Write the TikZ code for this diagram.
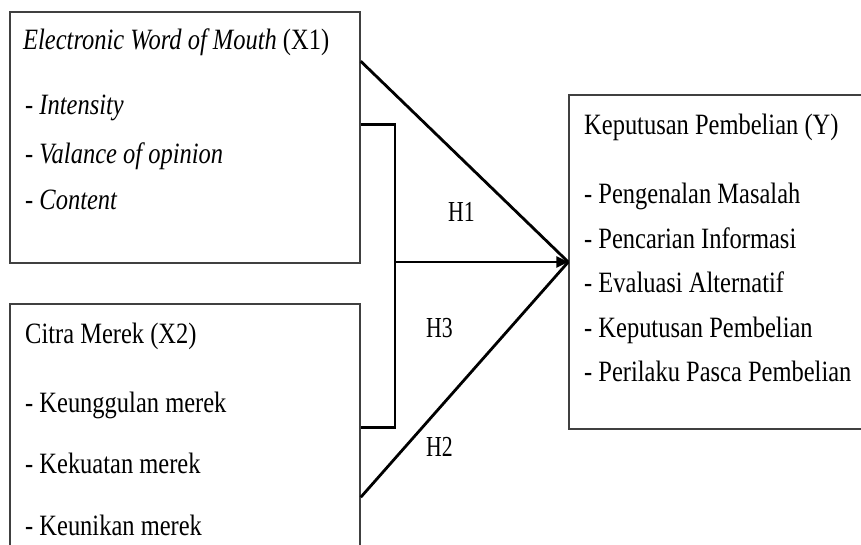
\documentclass[tikz,border=0pt]{standalone}
\usepackage{fontspec}
\setmainfont{Liberation Serif}[FakeStretch=0.83]
\newfontfamily\hypfont{Liberation Serif}[FakeStretch=0.75]
\usetikzlibrary{arrows.meta}

\begin{document}
\begin{tikzpicture}[
  x=1pt, y=-1pt,
  varbox/.style={rectangle, draw=black!75, line width=1.5pt},
  txt/.style={anchor=base west, inner sep=0pt, font=\fontsize{29.5}{31}\selectfont},
  hyp/.style={anchor=base west, inner sep=0pt, font=\hypfont\fontsize{29}{31}\selectfont},
  link/.style={draw=black, line width=2.8pt},
  ]
\useasboundingbox (0,0) rectangle (861,545);

\node[varbox, minimum width=350pt, minimum height=251pt] (x1) at (185,137.5) {};
\node[varbox, minimum width=350pt, minimum height=266pt] (x2) at (185,437) {};
\node[varbox, minimum width=311pt, minimum height=334pt] (y) at (724.5,262) {};

\node[txt] (x1t) at (23,50) {\textit{Electronic Word of Mouth} (X1)};
\node[txt] (x1a) at (25,115) {- \textit{Intensity}};
\node[txt] (x1b) at (25,164) {- \textit{Valance of opinion}};
\node[txt] (x1c) at (25,210) {- \textit{Content}};

\node[txt] (x2t) at (25,343) {Citra Merek (X2)};
\node[txt] (x2a) at (25,412) {- Keunggulan merek};
\node[txt] (x2b) at (25,473) {- Kekuatan merek};
\node[txt] (x2c) at (25,535) {- Keunikan merek};

\node[txt] (yt) at (584,135) {Keputusan Pembelian (Y)};
\node[txt] (ya) at (584,204) {- Pengenalan Masalah};
\node[txt] (yb) at (584,248) {- Pencarian Informasi};
\node[txt] (yc) at (584,292) {- Evaluasi Alternatif};
\node[txt] (yd) at (584,337) {- Keputusan Pembelian};
\node[txt] (ye) at (584,381) {- Perilaku Pasca Pembelian};

\node[hyp] (h1) at (448,222) {H1};
\node[hyp] (h3) at (426,337) {H3};
\node[hyp] (h2) at (426,456) {H2};

\coordinate (jn) at (395,262);

\draw[link] ([yshift=-50pt]x1.north east) -- (y.west);
\draw[link] ([yshift=-194pt]x2.north east) -- (y.west);
\draw[link] ([yshift=-113pt]x1.north east) -| (jn) |- ([yshift=-124pt]x2.north east);
\draw[link, -{Triangle[length=12pt, width=11pt]}] (jn) -- (y.west);

\end{tikzpicture}
\end{document}
